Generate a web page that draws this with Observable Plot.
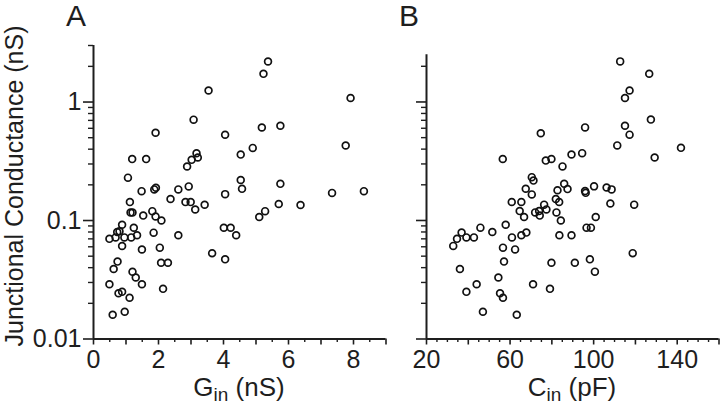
<!DOCTYPE html>
<html><head><meta charset="utf-8">
<script src="https://cdn.jsdelivr.net/npm/d3@7"></script>
<script src="https://cdn.jsdelivr.net/npm/@observablehq/plot@0.6"></script>
<style>
body{margin:0;background:#fff;}
#wrap{position:relative;width:720px;height:404px;overflow:hidden;font-family:"Liberation Sans",Arial,sans-serif;background:#fff;}
#wrap > svg{position:absolute;top:0;}
</style></head><body><div id="wrap"></div>
<script>
// Panel A: input conductance (nS) vs junctional conductance (nS)
const ginA = [3.54,3.08,1.91,4.05,1.19,1.62,3.17,3.02,3.21,2.88,1.06,1.48,1.87,1.92,2.61,2.93,4.05,2.37,1.12,2.83,
  2.99,3.13,3.42,1.14,1.20,1.53,1.81,1.91,2.09,0.88,0.73,0.80,1.24,0.49,0.68,0.95,1.16,1.34,1.85,2.61,
  4.01,4.22,4.39,4.05,0.88,1.49,2.04,0.74,2.08,2.29,3.65,0.62,1.20,1.30,0.49,1.49,0.77,0.88,1.11,2.14,
  0.59,0.96,5.37,5.23,7.91,5.18,5.75,4.53,4.90,7.76,4.53,4.57,5.75,7.34,8.32,5.70,6.37,5.10,5.28];
const gjA = [1.25,0.71,0.55,0.53,0.33,0.33,0.37,0.325,0.34,0.286,0.23,0.177,0.183,0.189,0.183,0.194,0.167,0.152,0.143,0.143,
  0.143,0.124,0.136,0.117,0.117,0.110,0.120,0.108,0.100,0.092,0.080,0.081,0.087,0.070,0.072,0.072,0.072,0.075,0.079,0.075,
  0.087,0.087,0.075,0.047,0.061,0.057,0.059,0.045,0.044,0.044,0.053,0.039,0.037,0.033,0.029,0.029,0.0243,0.025,0.0223,0.0265,
  0.016,0.017,2.2,1.73,1.08,0.61,0.63,0.36,0.41,0.43,0.22,0.185,0.204,0.171,0.177,0.138,0.135,0.107,0.120];
// Panel B: input capacitance (pF) vs junctional conductance (nS)
const cinB = [95.9,74.7,56.5,77.1,79.8,89.4,94.5,85.1,70.4,71.2,67.5,82.7,87.5,85.9,95.9,96.2,100.2,70.4,60.8,65.4,
  64.6,66.7,72.0,74.2,73.9,76.3,77.4,81.9,83.5,82.2,84.3,101.0,45.8,42.7,51.5,57.9,60.9,65.4,67.8,83.6,
  89.4,96.6,98.7,56.6,62.4,57.1,79.8,91.0,98.2,100.6,44.0,54.4,55.2,56.6,71.0,79.1,47.0,63.2,32.8,34.6,
  36.8,39.1,36.0,39.1,112.7,126.6,117.2,115.0,127.4,115.0,117.2,111.3,141.8,129.2,106.2,108.6,108.0,119.4,118.7];
const gjB = [0.61,0.545,0.33,0.32,0.33,0.36,0.37,0.286,0.232,0.217,0.185,0.18,0.184,0.204,0.177,0.171,0.194,0.166,0.143,0.143,
  0.12,0.107,0.117,0.110,0.12,0.136,0.124,0.152,0.143,0.117,0.100,0.107,0.087,0.072,0.080,0.092,0.072,0.075,0.079,0.075,
  0.075,0.087,0.087,0.059,0.057,0.045,0.044,0.044,0.047,0.037,0.029,0.033,0.0243,0.0223,0.029,0.0265,0.017,0.016,0.061,0.070,
  0.079,0.072,0.039,0.025,2.2,1.73,1.25,1.08,0.71,0.63,0.53,0.43,0.41,0.34,0.19,0.183,0.139,0.136,0.053];

const yMajor = [0.01, 0.1, 1];
const yMinorA = [0.02,0.03,0.04,0.05,0.06,0.07,0.08,0.09,0.2,0.3,0.4,0.5,0.6,0.7,0.8,0.9,2,3];
const yMinorB = [0.02,0.03,0.04,0.05,0.06,0.07,0.08,0.09,0.2,0.3,0.4,0.5,0.6,0.7,0.8,0.9,2];
const xLabelsA = [0,2,4,6,8];
const xMidA = [1,3,5,7,9];
const xMinorA = [0.5,1.5,2.5,3.5,4.5,5.5,6.5,7.5,8.5];
const xLabelsB = [20,60,100,140];
const xMidB = [40,80,120,160];
const xMinorB = [25,30,35,45,50,55,65,70,75,85,90,95,105,110,115,125,130,135,145,150,155];

const ink = "#1e1e1e";
const font = "Liberation Sans, Arial, sans-serif";

function panel(o) {
  const data = o.xs.map((x, i) => ({x, y: o.ys[i]}));
  return Plot.plot({
    width: o.width, height: 404,
    marginLeft: o.marginLeft, marginRight: o.marginRight, marginTop: o.marginTop, marginBottom: 65.5,
    style: {fontFamily: font, fontSize: "25px", color: ink, background: "transparent", overflow: "visible"},
    x: {domain: o.xDomain},
    y: {type: "log", domain: o.yDomain},
    marks: [
      Plot.ruleX([o.xDomain[0]], {y1: o.yDomain[0], y2: o.yDomain[1], stroke: ink, strokeWidth: 2}),
      Plot.ruleY([o.yDomain[0]], {x1: o.xDomain[0], x2: o.xDomain[1], stroke: ink, strokeWidth: 2}),
      Plot.axisY({ticks: yMajor, tickSize: 10, tickPadding: 2, strokeWidth: 1.6, label: null,
        tickFormat: o.yText ? (d => String(d)) : (() => "")}),
      Plot.axisY({ticks: o.yMinor, tickSize: 5, strokeWidth: 1.4, label: null, tickFormat: () => ""}),
      Plot.axisX({ticks: o.xLabels, tickSize: 6, tickPadding: 5, strokeWidth: 1.6, label: null, tickFormat: d => String(d)}),
      Plot.axisX({ticks: o.xMid, tickSize: 6, strokeWidth: 1.6, label: null, tickFormat: () => ""}),
      Plot.axisX({ticks: o.xMinor, tickSize: 3.5, strokeWidth: 1.4, label: null, tickFormat: () => ""}),
      Plot.dot(data, {x: "x", y: "y", r: 3.4, stroke: "#111", strokeWidth: 1.7, fill: "none"})
    ]
  });
}

const wrap = document.getElementById("wrap");
const a = panel({xs: ginA, ys: gjA, width: 400, marginLeft: 93, marginRight: 14.5, marginTop: 45,
  xDomain: [0, 9], yDomain: [0.01, 3], yMinor: yMinorA, yText: true,
  xLabels: xLabelsA, xMid: xMidA, xMinor: xMinorA});
a.style.left = "0px";
wrap.appendChild(a);
const b = panel({xs: cinB, ys: gjB, width: 320, marginLeft: 26, marginRight: 1.5, marginTop: 54.3,
  xDomain: [20, 160], yDomain: [0.01, 2.5], yMinor: yMinorB, yText: false,
  xLabels: xLabelsB, xMid: xMidB, xMinor: xMinorB});
b.style.left = "400px";
wrap.appendChild(b);

// text overlay: panel letters and axis titles
const ns = "http://www.w3.org/2000/svg";
const ov = document.createElementNS(ns, "svg");
ov.setAttribute("width", 720); ov.setAttribute("height", 404);
ov.style.left = "0px";
ov.style.pointerEvents = "none";
ov.innerHTML = `
<g font-family="${font}" fill="${ink}">
  <text x="66" y="26" font-size="30">A</text>
  <text x="399" y="26" font-size="30">B</text>
  <text transform="translate(23,186) rotate(-90)" text-anchor="middle" font-size="25">Junctional Conductance (nS)</text>
  <text x="239" y="396" text-anchor="middle" font-size="26">G<tspan font-size="19" dy="5">in</tspan><tspan dy="-5"> (nS)</tspan></text>
  <text x="572" y="396" text-anchor="middle" font-size="26">C<tspan font-size="19" dy="5">in</tspan><tspan dy="-5"> (pF)</tspan></text>
</g>`;
wrap.appendChild(ov);
</script>
</body></html>
